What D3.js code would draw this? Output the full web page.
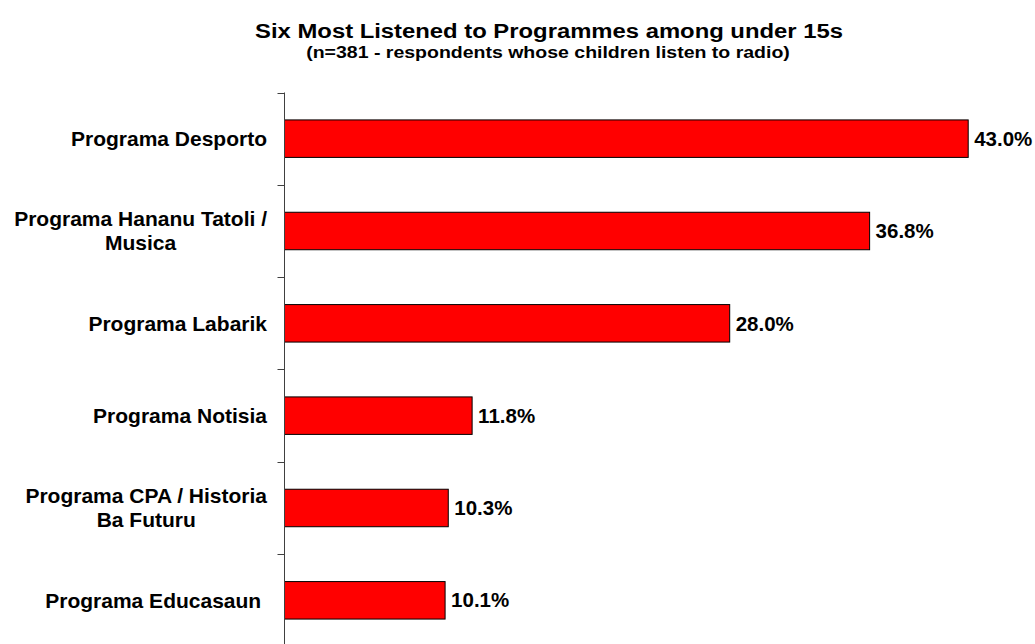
<!DOCTYPE html>
<html>
<head>
<meta charset="utf-8">
<script src="https://cdn.jsdelivr.net/npm/d3@7"></script>
<style>
  html, body { margin: 0; padding: 0; background: #ffffff; }
  svg { display: block; font-family: "Liberation Sans", Arial, sans-serif; font-weight: bold; }
</style>
</head>
<body>
<svg id="chart" width="1035" height="644"></svg>
<script>
// Programme names (each entry is one or more label lines) and share of listeners
const programmes = [
  ["Programa Desporto"],
  ["Programa Hananu Tatoli /", "Musica"],
  ["Programa Labarik"],
  ["Programa Notisia"],
  ["Programa CPA / Historia", "Ba Futuru"],
  ["Programa Educasaun "]
];
const shares = [0.430, 0.368, 0.280, 0.118, 0.103, 0.101];

const titleText = "Six Most Listened to Programmes among under 15s";
const subtitleText = "(n=381 - respondents whose children listen to radio)";

const svg = d3.select("#chart");

const axisX = 284.5;
const plotTop = 92.5, step = 92.33;

const y = d3.scaleBand()
  .domain(d3.range(programmes.length))
  .range([plotTop, plotTop + step * programmes.length])
  .padding(0);

const x = d3.scaleLinear()
  .domain([0, 0.5])
  .range([axisX, axisX + 795]);

const barH = y.bandwidth() * 0.406;

// Heading lines: drawn at a given size, then widened horizontally to span the given width
function heading(text, size, cx, baseline, width) {
  const g = svg.append("g");
  const t = g.append("text")
    .attr("x", 0).attr("y", 0)
    .attr("text-anchor", "middle")
    .attr("font-size", size)
    .attr("fill", "#000")
    .text(text);
  const sx = width / t.node().getComputedTextLength();
  g.attr("transform", `translate(${cx},${baseline}) scale(${sx},1)`);
}
heading(titleText, 21, 549, 38, 588);
heading(subtitleText, 16, 548, 57.5, 484);

// Bars
svg.append("g").selectAll("rect")
  .data(shares)
  .join("rect")
  .attr("x", x(0))
  .attr("y", (d, i) => y(i) + y.bandwidth() / 2 - barH / 2)
  .attr("width", d => x(d) - x(0))
  .attr("height", barH)
  .attr("fill", "#ff0000")
  .attr("stroke", "#000")
  .attr("stroke-width", 1);

// Value labels
const fmt = d3.format(".1%");
svg.append("g").selectAll("text")
  .data(shares)
  .join("text")
  .attr("x", d => x(d) + 6)
  .attr("y", (d, i) => y(i) + y.bandwidth() / 2)
  .attr("dy", "0.35em")
  .attr("font-size", 20.5)
  .attr("fill", "#000")
  .text(d => fmt(d));

// Vertical category axis with ticks between categories
const axisG = svg.append("g");
axisG.append("line")
  .attr("x1", axisX).attr("x2", axisX)
  .attr("y1", plotTop).attr("y2", 644)
  .attr("stroke", "#404040").attr("stroke-width", 1);
axisG.selectAll("line.tick")
  .data(d3.range(programmes.length + 1))
  .join("line")
  .attr("class", "tick")
  .attr("x1", axisX - 7).attr("x2", axisX)
  .attr("y1", i => Math.round(plotTop + i * step) + 0.5)
  .attr("y2", i => Math.round(plotTop + i * step) + 0.5)
  .attr("stroke", "#404040").attr("stroke-width", 1);

// Category labels: block right edge near the axis, lines centred within it
const labelRight = 267;
const lineH = 24;
const labelG = svg.append("g");
programmes.forEach((lines, i) => {
  const t = labelG.append("text")
    .attr("font-size", 21)
    .attr("fill", "#000")
    .attr("text-anchor", "middle")
    .style("white-space", "pre");
  const cy = y(i) + y.bandwidth() / 2;
  const y0 = cy - (lines.length - 1) * lineH / 2;
  const spans = lines.map((s, k) => t.append("tspan")
    .attr("y", y0 + k * lineH)
    .attr("dy", "0.35em")
    .text(s));
  const w = d3.max(spans, sp => sp.node().getComputedTextLength());
  spans.forEach(sp => sp.attr("x", labelRight - w / 2));
});
</script>
</body>
</html>
